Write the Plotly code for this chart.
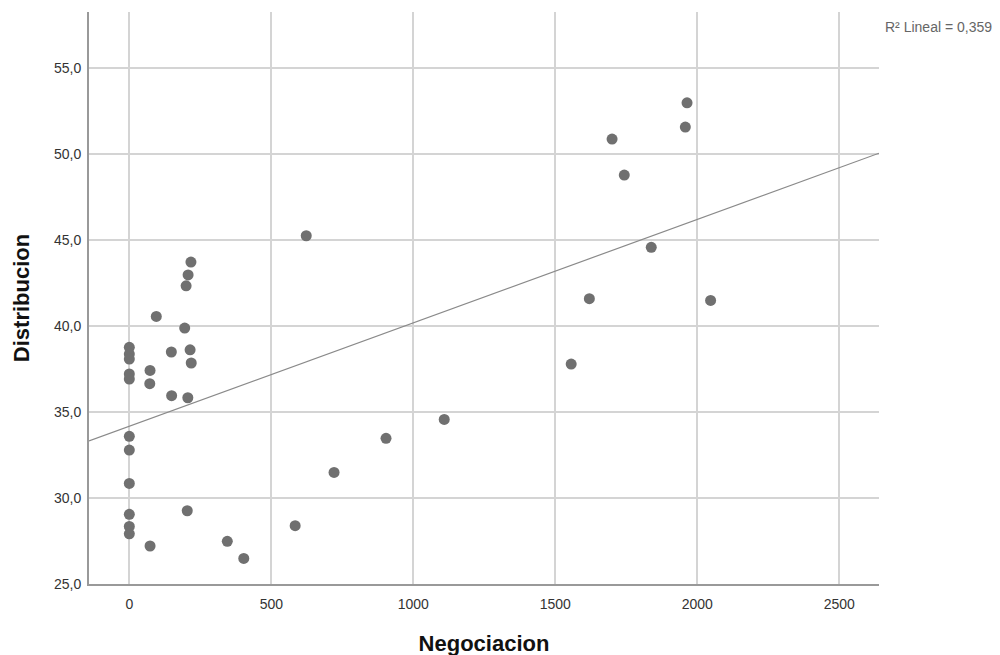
import numpy as np
import plotly.graph_objects as go

negociacion = [623, 217, 207, 200, 95, 195, 0, 0, 0, 0, 0, 148, 214, 218, 73, 72, 149, 206,
               0, 0, 0, 0, 0, 0, 73, 204, 345, 403, 584, 721,
               904, 1109,
               1964, 1958, 1700, 1743, 1838, 1620, 2047, 1556]
distribucion = [45.25, 43.72, 42.97, 42.34, 40.56, 39.88, 38.76, 38.37, 38.08, 37.21, 36.92, 38.49, 38.62, 37.85, 37.42, 36.65, 35.95, 35.83,
                33.59, 32.79, 30.85, 29.05, 28.35, 27.92, 27.21, 29.26, 27.48, 26.49, 28.39, 31.49,
                33.47, 34.57,
                52.98, 51.57, 50.87, 48.78, 44.58, 41.59, 41.49, 37.79]

x_ticks = [0, 500, 1000, 1500, 2000, 2500]
y_ticks = [25, 30, 35, 40, 45, 50, 55]
x_range = [-142, 2640]
y_range = [25, 58.26]
r2_label = "R² Lineal = 0,359"

xa = np.array(negociacion, float)
ya = np.array(distribucion, float)
slope, intercept = np.polyfit(xa, ya, 1)

fit_x = np.array(x_range, float)
fit_y = slope * fit_x + intercept

fig = go.Figure()
fig.add_trace(go.Scatter(x=fit_x, y=fit_y, mode="lines",
                         line=dict(color="#8a8a8a", width=1.2), hoverinfo="skip", showlegend=False))
fig.add_trace(go.Scatter(x=negociacion, y=distribucion, mode="markers",
                         marker=dict(color="#707070", size=11, line=dict(width=0)), showlegend=False))

fig.update_layout(
    width=1000, height=655,
    margin=dict(l=81, r=129, t=4, b=79),
    paper_bgcolor="white", plot_bgcolor="white",
    separators=",.",
    font=dict(family="Liberation Sans, Arial, sans-serif", size=14, color="#333333"),
    xaxis=dict(range=x_range, tickvals=x_ticks, showgrid=True, gridcolor="#d4d4d4", gridwidth=2,
               zeroline=False, showline=True, linecolor="#999999", linewidth=2, ticks="",
               ticklabelstandoff=6,
               tickfont=dict(size=14, color="#333333"),
               title=dict(text="<b>Negociacion</b>", font=dict(size=22, color="#111111"), standoff=25)),
    yaxis=dict(range=y_range, tickvals=y_ticks, tickformat=".1f", showgrid=True, gridcolor="#d4d4d4", gridwidth=2,
               zeroline=False, showline=True, linecolor="#999999", linewidth=2, ticks="",
               ticklabelstandoff=3,
               tickfont=dict(size=14, color="#333333"),
               title=dict(text="<b>Distribucion</b>", font=dict(size=22, color="#111111"), standoff=18)),
    annotations=[dict(text=r2_label, xref="paper", yref="paper",
                      x=1.0, y=1.0, xanchor="left", yanchor="middle", xshift=4, yshift=-15,
                      showarrow=False, font=dict(size=14, color="#666666"))],
)

fig.write_html("out.html")
